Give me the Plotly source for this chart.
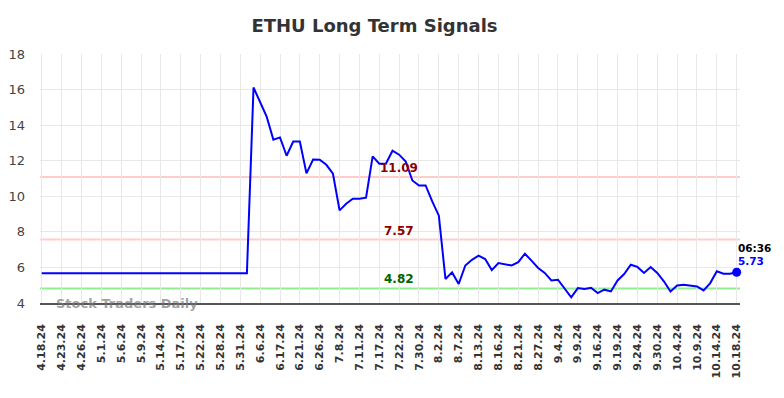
import plotly.graph_objects as go

tick_labels = ["4.18.24", "4.23.24", "4.26.24", "5.1.24", "5.6.24", "5.9.24", "5.14.24",
               "5.17.24", "5.22.24", "5.28.24", "5.31.24", "6.6.24", "6.17.24", "6.21.24",
               "6.26.24", "7.8.24", "7.11.24", "7.17.24", "7.22.24", "7.30.24", "8.2.24",
               "8.7.24", "8.13.24", "8.16.24", "8.21.24", "8.27.24", "9.4.24", "9.9.24",
               "9.16.24", "9.19.24", "9.24.24", "9.30.24", "10.4.24", "10.9.24",
               "10.14.24", "10.18.24"]

flat_part = [5.67] * 32
signal_part = [16.12, 15.33, 14.46, 13.18, 13.31, 12.28, 13.08, 13.08, 11.29, 12.07,
               12.05, 11.77, 11.27, 9.21, 9.58, 9.86, 9.86, 9.92, 12.24, 11.83,
               11.83, 12.56, 12.34, 11.96, 10.89, 10.61, 10.61, 9.71, 8.91, 5.35,
               5.72, 5.07, 6.11, 6.43, 6.66, 6.47, 5.85, 6.25, 6.17, 6.11,
               6.30, 6.77, 6.38, 5.97, 5.69, 5.27, 5.31, 4.84, 4.32, 4.84,
               4.79, 4.86, 4.56, 4.75, 4.65, 5.27, 5.63, 6.15, 6.03, 5.69,
               6.02, 5.69, 5.22, 4.65, 4.98, 5.02, 4.98, 4.93, 4.71, 5.12,
               5.78, 5.65, 5.65, 5.73]
values = flat_part + signal_part

levels = [11.09, 7.57, 4.82]
level_line_colors = ["#ffcccc", "#ffcccc", "#90ee90"]
level_text_colors = ["#8b0000", "#8b0000", "#006400"]

last_time = "06:36"

x_idx = list(range(len(values)))
tick_vals = list(range(0, len(values), 3))

fig = go.Figure()

for lv, lc in zip(levels, level_line_colors):
    fig.add_hline(y=lv, line=dict(color=lc, width=2), layer="below")

fig.add_trace(go.Scatter(x=x_idx, y=values, mode="lines",
                         line=dict(color="#0000ff", width=2), hoverinfo="skip"))
fig.add_trace(go.Scatter(x=[x_idx[-1]], y=[values[-1]], mode="markers",
                         marker=dict(color="#0000ff", size=9), hoverinfo="skip",
                         cliponaxis=False))

label_x = 54.0
for lv, tc in zip(levels, level_text_colors):
    fig.add_annotation(x=label_x, y=lv, text=f"{lv:.2f}", showarrow=False,
                       yshift=9, font=dict(family="DejaVu Sans", size=12,
                                           color=tc, weight="bold"))

fig.add_annotation(x=x_idx[-1], y=values[-1], text=last_time, showarrow=False,
                   xanchor="left", yshift=24, xshift=-1,
                   font=dict(family="DejaVu Sans", size=10.5, color="#000000", weight="bold"))
fig.add_annotation(x=x_idx[-1], y=values[-1], text=f"{values[-1]:.2f}", showarrow=False,
                   xanchor="left", yshift=11, xshift=-1,
                   font=dict(family="DejaVu Sans", size=10.5, color="#0000ff", weight="bold"))

fig.add_annotation(xref="paper", yref="y", x=0.02, y=4, text="Stock Traders Daily",
                   showarrow=False, xanchor="left", yanchor="middle",
                   font=dict(family="DejaVu Sans", size=13, color="rgba(120,120,120,0.7)",
                             weight="bold"))

fig.update_layout(
    width=784, height=398,
    margin=dict(l=32, r=52, t=46, b=103, autoexpand=False),
    paper_bgcolor="white", plot_bgcolor="white",
    showlegend=False,
    title=dict(text="ETHU Long Term Signals", x=366.5 / 784, xanchor="center",
               y=1 - 17.5 / 398, yanchor="middle",
               font=dict(family="DejaVu Sans", size=18, color="#333333", weight="bold")),
    xaxis=dict(range=[-0.26, 105.5], tickmode="array", tickvals=tick_vals,
               ticktext=tick_labels, tickangle=-90, automargin=False,
               tickfont=dict(family="DejaVu Sans", size=11, color="#333333", weight="bold"),
               showgrid=True, gridcolor="#e8e8e8", gridwidth=1, zeroline=False,
               showline=True, linecolor="#555555", linewidth=1.5, ticks="",
               ticklabelstandoff=15),
    yaxis=dict(range=[4, 18], dtick=2, tick0=4, automargin=False,
               tickfont=dict(family="DejaVu Sans", size=13, color="#444444"),
               showgrid=True, gridcolor="#e8e8e8", gridwidth=1, zeroline=False,
               showline=False, ticks="", ticklabelstandoff=14),
)

fig.write_html("out.html")
